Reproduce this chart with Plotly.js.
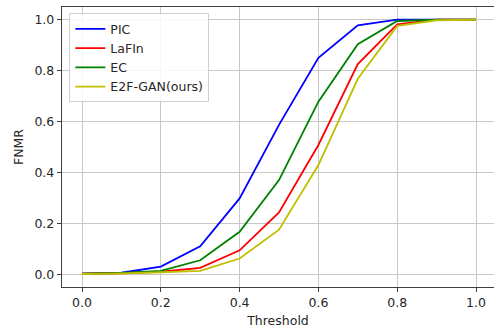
<!DOCTYPE html>
<html>
<head>
<meta charset="utf-8">
<script src="https://cdn.plot.ly/plotly-3.0.1.min.js"></script>
<style>html,body{margin:0;padding:0;background:#fff;}#chart{width:494px;height:332px;}</style>
</head>
<body>
<div id="chart"></div>
<script>
const thresholds = [0.0, 0.1, 0.2, 0.3, 0.4, 0.5, 0.6, 0.7, 0.8, 0.9, 1.0];
const seriesNames = ["PIC", "LaFIn", "EC", "E2F-GAN(ours)"];
const picValues   = [0.002, 0.006, 0.030, 0.110, 0.298, 0.587, 0.850, 0.978, 1.000, 1.000, 1.000];
const lafinValues = [0.002, 0.004, 0.010, 0.025, 0.094, 0.243, 0.508, 0.826, 0.982, 1.000, 1.000];
const ecValues    = [0.002, 0.005, 0.013, 0.055, 0.167, 0.370, 0.678, 0.904, 0.995, 1.000, 1.000];
const e2fValues   = [0.001, 0.003, 0.008, 0.013, 0.062, 0.175, 0.429, 0.768, 0.976, 0.998, 1.000];
const xTicks = [0.0, 0.2, 0.4, 0.6, 0.8, 1.0];
const yTicks = [0.0, 0.2, 0.4, 0.6, 0.8, 1.0];

const colors = ["#0000ff", "#ff0000", "#008000", "#bfbf00"];
const allValues = [picValues, lafinValues, ecValues, e2fValues];

const traces = allValues.map((vals, i) => ({
  x: thresholds, y: vals, type: "scatter", mode: "lines",
  name: seriesNames[i],
  line: {color: colors[i], width: 1.8}
}));

const font = {family: "DejaVu Sans, sans-serif", size: 12.5, color: "#262626"};

const layout = {
  width: 494, height: 332,
  margin: {l: 62, r: 0, t: 7, b: 45},
  paper_bgcolor: "#ffffff", plot_bgcolor: "#ffffff",
  font: font,
  showlegend: true,
  legend: {
    x: 0.017, y: 0.978, xanchor: "left", yanchor: "top",
    bgcolor: "rgba(255,255,255,0.85)", bordercolor: "#d0d0d0", borderwidth: 1,
    font: {family: "DejaVu Sans, sans-serif", size: 12.5, color: "#262626"},
    itemwidth: 30, tracegroupgap: 0
  },
  xaxis: {
    range: [-0.0508, 1.0457],
    tickvals: xTicks, ticktext: xTicks.map(v => v.toFixed(1)),
    showgrid: true, gridcolor: "#c8c8c8", gridwidth: 1,
    zeroline: false,
    showline: true, linecolor: "#404040", linewidth: 1.2, mirror: true,
    ticks: "outside", ticklen: 4, tickcolor: "#404040",
    title: {text: "Threshold", font: font, standoff: 7}
  },
  yaxis: {
    range: [-0.05, 1.05],
    tickvals: yTicks, ticktext: yTicks.map(v => v.toFixed(1)),
    showgrid: true, gridcolor: "#c8c8c8", gridwidth: 1,
    zeroline: false,
    showline: true, linecolor: "#404040", linewidth: 1.2, mirror: false,
    ticks: "outside", ticklen: 4, tickcolor: "#404040",
    title: {text: "FNMR", font: font, standoff: 8}
  }
};

Plotly.newPlot("chart", traces, layout, {displayModeBar: false, staticPlot: true});
</script>
</body>
</html>
